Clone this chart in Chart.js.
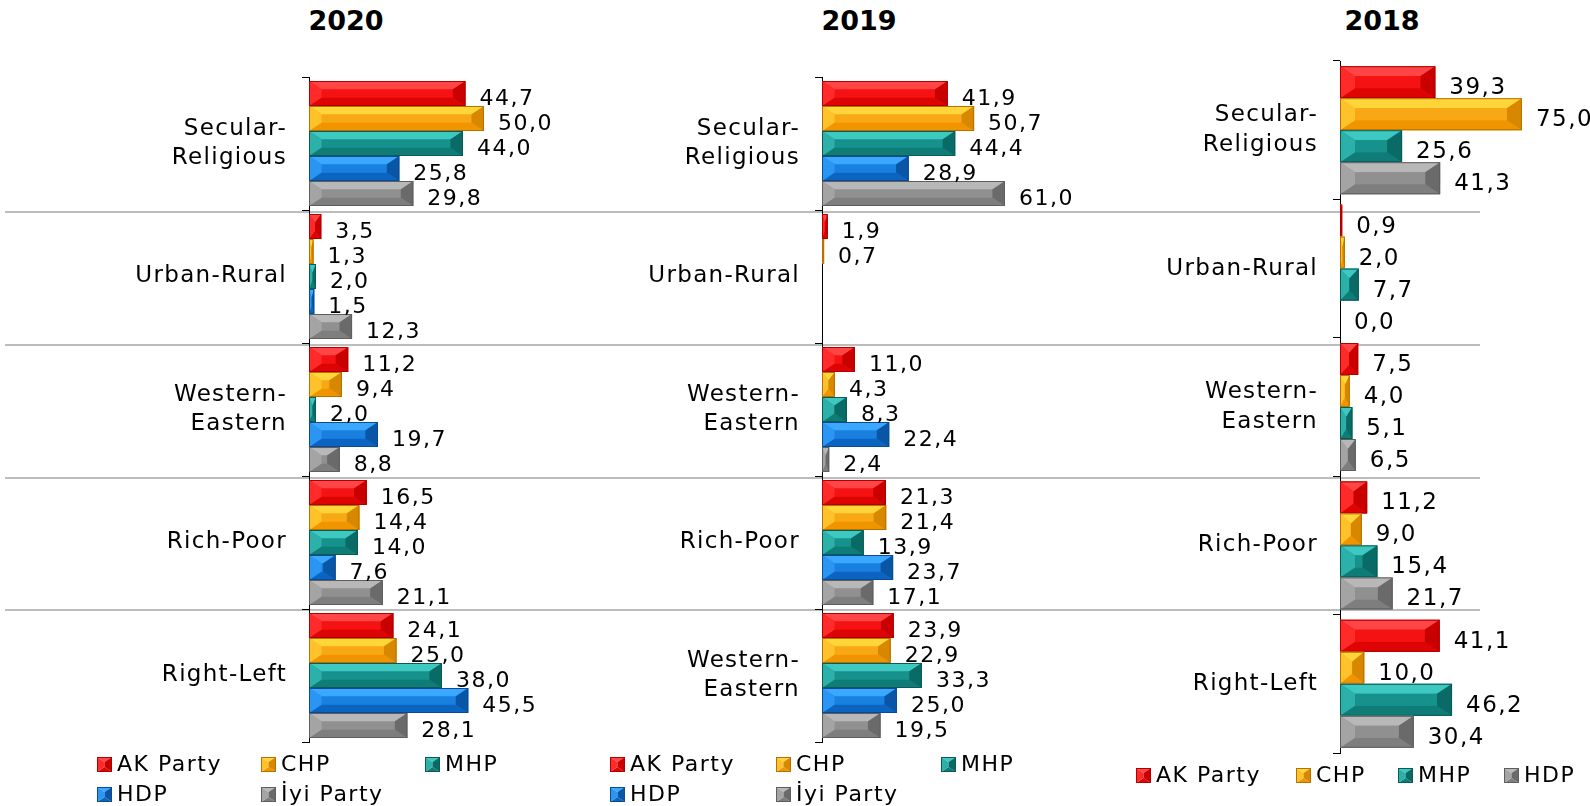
<!DOCTYPE html>
<html>
<head>
<meta charset="utf-8">
<script src="https://cdn.jsdelivr.net/npm/chart.js@4.4.1/dist/chart.umd.min.js"></script>
<style>
  body { margin: 0; width: 1590px; height: 806px; background: #fff; position: relative; overflow: hidden; font-family: 'DejaVu Sans', sans-serif; }
  .rule { position: absolute; left: 5px; width: 1475px; height: 2px; background: #bcbcbc; }
  .title { position: absolute; top: 7px; font: bold 27px/27px 'DejaVu Sans'; transform: translateX(-50%); color: #000; }
  canvas.panel { position: absolute; top: 0; }
  .leg { position: absolute; height: 15px; }
  .leg span { position: absolute; left: 20px; top: -4px; font-size: 22px; line-height: 22px; letter-spacing: 1.5px; white-space: nowrap; color: #000; }
</style>
</head>
<body>
<div class="rule" style="top:211px"></div>
<div class="rule" style="top:344px"></div>
<div class="rule" style="top:477px"></div>
<div class="rule" style="top:609px"></div>

<div class="title" style="left:346px">2020</div>
<div class="title" style="left:859px">2019</div>
<div class="title" style="left:1382px">2018</div>

<canvas id="c2020" class="panel" width="609" height="806" style="left:0px"></canvas>
<canvas id="c2019" class="panel" width="622" height="806" style="left:520px"></canvas>
<canvas id="c2018" class="panel" width="550" height="806" style="left:1040px"></canvas>

<script>
// ---- data ----
const cats2020 = [['Secular-', 'Religious'], 'Urban-Rural', ['Western-', 'Eastern'], 'Rich-Poor', 'Right-Left'];
const ak2020  = [44.7, 3.5, 11.2, 16.5, 24.1];
const chp2020 = [50.0, 1.3, 9.4, 14.4, 25.0];
const mhp2020 = [44.0, 2.0, 2.0, 14.0, 38.0];
const hdp2020 = [25.8, 1.5, 19.7, 7.6, 45.5];
const iyi2020 = [29.8, 12.3, 8.8, 21.1, 28.1];

const cats2019 = [['Secular-', 'Religious'], 'Urban-Rural', ['Western-', 'Eastern'], 'Rich-Poor', ['Western-', 'Eastern']];
const ak2019  = [41.9, 1.9, 11.0, 21.3, 23.9];
const chp2019 = [50.7, 0.7, 4.3, 21.4, 22.9];
const mhp2019 = [44.4, null, 8.3, 13.9, 33.3];
const hdp2019 = [28.9, null, 22.4, 23.7, 25.0];
const iyi2019 = [61.0, null, 2.4, 17.1, 19.5];

const cats2018 = [['Secular-', 'Religious'], 'Urban-Rural', ['Western-', 'Eastern'], 'Rich-Poor', 'Right-Left'];
const ak2018  = [39.3, 0.9, 7.5, 11.2, 41.1];
const chp2018 = [75.0, 2.0, 4.0, 9.0, 10.0];
const mhp2018 = [25.6, 7.7, 5.1, 15.4, 46.2];
const hdp2018 = [41.3, 0.0, 6.5, 21.7, 30.4];

// ---- styles ----
const STYLE = {
  red:    { light: '#ff4545', left: '#ff2a2a', mid: '#f51212', right: '#c80000', dark: '#de0404', edge: '#b00000' },
  orange: { light: '#ffd63a', left: '#ffc22a', mid: '#f8a814', right: '#d88800', dark: '#f09400', edge: '#b57200' },
  teal:   { light: '#3ec8c2', left: '#2cb0aa', mid: '#16918b', right: '#0a6a65', dark: '#0f7c77', edge: '#0a5a56' },
  blue:   { light: '#3aa8ff', left: '#2a95f2', mid: '#1a80e0', right: '#0a56a6', dark: '#0c64c2', edge: '#094c90' },
  gray:   { light: '#b8b8b8', left: '#a4a4a4', mid: '#909090', right: '#6a6a6a', dark: '#7e7e7e', edge: '#5e5e5e' }
};

Chart.defaults.font.family = "'DejaVu Sans', sans-serif";
Chart.defaults.color = '#000';

function poly(ctx, pts, color) {
  ctx.beginPath();
  ctx.moveTo(pts[0][0], pts[0][1]);
  for (let i = 1; i < pts.length; i++) ctx.lineTo(pts[i][0], pts[i][1]);
  ctx.closePath();
  ctx.fillStyle = color;
  ctx.fill();
}

function drawBevel(ctx, L, T, R, B, c) {
  const w = R - L, h = B - T;
  if (w <= 0 || h <= 0) return;
  const dy = Math.min(h * 0.34, 10);
  const dx = Math.min(w / 2, dy * 1.5);
  const iL = L + dx, iR = R - dx, iT = T + dy, iB = B - dy;
  ctx.save();
  poly(ctx, [[L, T], [R, T], [iR, iT], [iL, iT]], c.light);
  poly(ctx, [[L, B], [R, B], [iR, iB], [iL, iB]], c.dark);
  poly(ctx, [[L, T], [iL, iT], [iL, iB], [L, B]], c.left);
  poly(ctx, [[R, T], [iR, iT], [iR, iB], [R, B]], c.right);
  if (iR > iL) { ctx.fillStyle = c.mid; ctx.fillRect(iL, iT, iR - iL, iB - iT); }
  if (w > 2) {
    ctx.strokeStyle = c.edge;
    ctx.lineWidth = 1;
    ctx.strokeRect(L + 0.5, T + 0.5, w - 1, h - 1);
  }
  ctx.restore();
}

function fmt(v) { return v.toFixed(1).replace('.', ','); }

const bevelPlugin = {
  id: 'bevel',
  beforeDraw(chart) { chart.ctx.letterSpacing = '1.3px'; },
  afterDatasetsDraw(chart, args, opts) {
    const ctx = chart.ctx;
    const items = [];
    chart.data.datasets.forEach((ds, di) => {
      const meta = chart.getDatasetMeta(di);
      meta.data.forEach((bar, i) => {
        const v = ds.data[i];
        if (v === null || v === undefined) return;
        const p = bar.getProps(['x', 'y', 'base', 'height'], true);
        const L = Math.min(p.x, p.base), R = Math.max(p.x, p.base);
        drawBevel(ctx, L, p.y - p.height / 2, R, p.y + p.height / 2, ds.bevel);
        items.push([fmt(v), R + 14, p.y + 6]);
      });
    });
    ctx.save();
    ctx.font = opts.labelSize + "px 'DejaVu Sans'";
    ctx.letterSpacing = '1.5px';
    ctx.fillStyle = '#000';
    ctx.textAlign = 'left';
    ctx.textBaseline = 'middle';
    items.forEach(t => ctx.fillText(t[0], t[1], t[2]));
    ctx.restore();
  }
};

function makePanel(id, cats, series, o) {
  const datasets = series.map(s => ({
    label: s.name,
    data: s.data,
    backgroundColor: STYLE[s.style].mid,
    borderWidth: 0,
    bevel: STYLE[s.style],
    categoryPercentage: o.catPct,
    barPercentage: 1.0
  }));
  return new Chart(document.getElementById(id), {
    type: 'bar',
    data: { labels: cats, datasets: datasets },
    options: {
      indexAxis: 'y',
      responsive: false,
      animation: false,
      devicePixelRatio: 1,
      layout: { padding: { left: 0, right: o.padRight, top: o.top, bottom: 806 - o.bottom } },
      plugins: {
        legend: { display: false },
        tooltip: { enabled: false },
        bevel: { labelSize: o.labelSize }
      },
      scales: {
        x: { display: false, min: 0, max: o.xMax },
        y: {
          offset: true,
          grid: { display: true, drawOnChartArea: false, drawTicks: true, tickLength: 7, color: '#000', offset: true },
          border: { display: true, color: '#000', width: 1 },
          ticks: { padding: 15, color: '#000', font: { size: 23, lineHeight: 1.28 } },
          afterFit: s => { s.width = o.axisWidth; s.paddingTop = 0; s.paddingBottom = 0; }
        }
      }
    },
    plugins: [bevelPlugin]
  });
}

makePanel('c2020', cats2020, [
  { name: 'AK Party', data: ak2020, style: 'red' },
  { name: 'CHP', data: chp2020, style: 'orange' },
  { name: 'MHP', data: mhp2020, style: 'teal' },
  { name: 'HDP', data: hdp2020, style: 'blue' },
  { name: 'İyi Party', data: iyi2020, style: 'gray' }
], { axisWidth: 309, padRight: 90, xMax: 60, top: 77, bottom: 742, catPct: 0.94, labelSize: 22 });

makePanel('c2019', cats2019, [
  { name: 'AK Party', data: ak2019, style: 'red' },
  { name: 'CHP', data: chp2019, style: 'orange' },
  { name: 'MHP', data: mhp2019, style: 'teal' },
  { name: 'HDP', data: hdp2019, style: 'blue' },
  { name: 'İyi Party', data: iyi2019, style: 'gray' }
], { axisWidth: 302, padRight: 110, xMax: 70, top: 77, bottom: 742, catPct: 0.94, labelSize: 22 });

makePanel('c2018', cats2018, [
  { name: 'AK Party', data: ak2018, style: 'red' },
  { name: 'CHP', data: chp2018, style: 'orange' },
  { name: 'MHP', data: mhp2018, style: 'teal' },
  { name: 'HDP', data: hdp2018, style: 'gray' }
], { axisWidth: 300, padRight: 56, xMax: 80, top: 61, bottom: 753, catPct: 0.925, labelSize: 23 });

// ---- legends ----
const legends = [
  { name: 'AK Party', style: 'red', x: 97, y: 757 },
  { name: 'CHP', style: 'orange', x: 261, y: 757 },
  { name: 'MHP', style: 'teal', x: 425, y: 757 },
  { name: 'HDP', style: 'blue', x: 97, y: 787 },
  { name: 'İyi Party', style: 'gray', x: 261, y: 787 },
  { name: 'AK Party', style: 'red', x: 610, y: 757 },
  { name: 'CHP', style: 'orange', x: 776, y: 757 },
  { name: 'MHP', style: 'teal', x: 941, y: 757 },
  { name: 'HDP', style: 'blue', x: 610, y: 787 },
  { name: 'İyi Party', style: 'gray', x: 776, y: 787 },
  { name: 'AK Party', style: 'red', x: 1136, y: 768 },
  { name: 'CHP', style: 'orange', x: 1296, y: 768 },
  { name: 'MHP', style: 'teal', x: 1398, y: 768 },
  { name: 'HDP', style: 'gray', x: 1504, y: 768 }
];
legends.forEach(l => {
  const d = document.createElement('div');
  d.className = 'leg';
  d.style.left = l.x + 'px';
  d.style.top = l.y + 'px';
  const c = document.createElement('canvas');
  c.width = 15; c.height = 15;
  drawBevel(c.getContext('2d'), 0, 0, 15, 15, STYLE[l.style]);
  d.appendChild(c);
  const s = document.createElement('span');
  s.textContent = l.name;
  d.appendChild(s);
  document.body.appendChild(d);
});
</script>
</body>
</html>
